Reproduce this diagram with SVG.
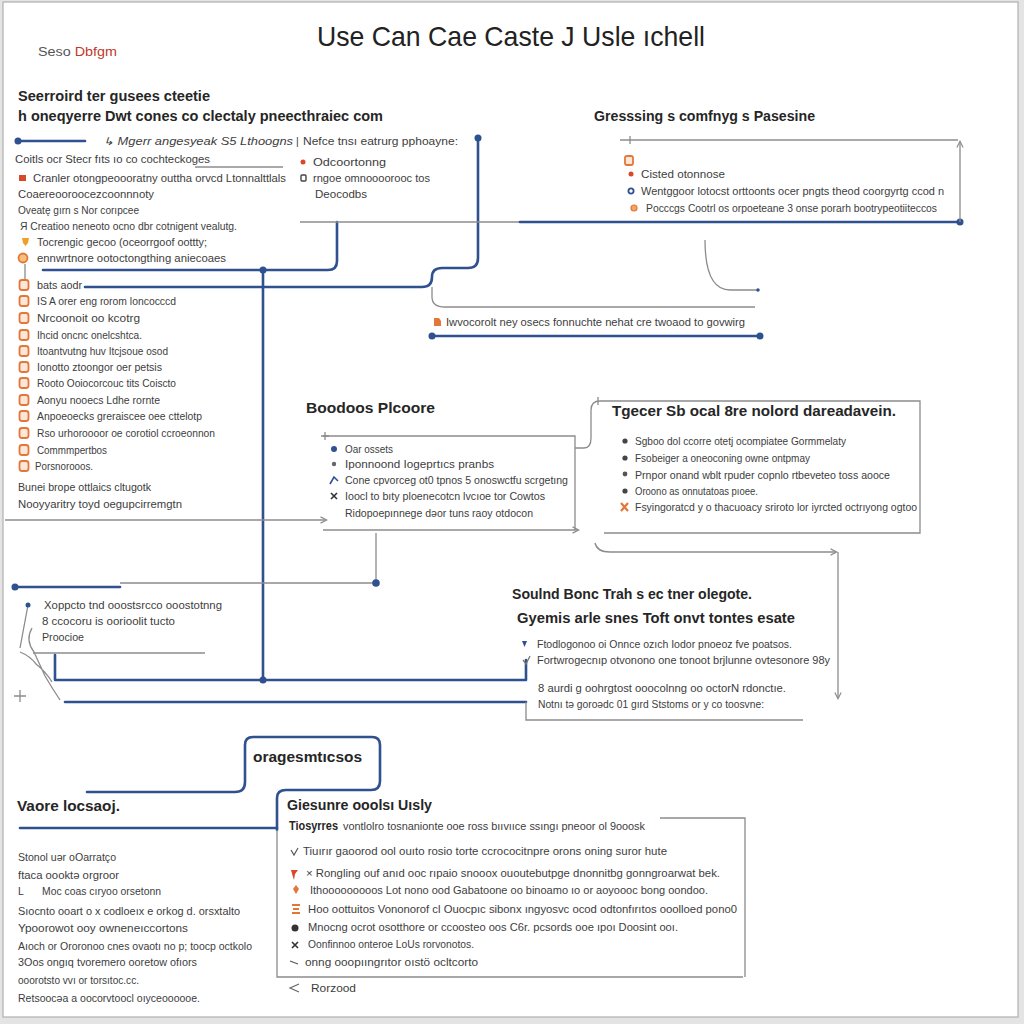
<svg xmlns="http://www.w3.org/2000/svg" width="1024" height="1024" viewBox="0 0 1024 1024">
<defs>
<style>
.t{font-family:"Liberation Sans",Arial,sans-serif;font-size:10.5px;fill:#3d3d3d}
.h{font-family:"Liberation Sans",Arial,sans-serif;font-size:14px;font-weight:bold;fill:#262626}
.ti{font-family:"Liberation Sans",Arial,sans-serif;font-size:28px;fill:#222}
.b{fill:none;stroke:#2f5190;stroke-width:2.6;stroke-linecap:round;stroke-linejoin:round}
.g{fill:none;stroke:#8c8c8c;stroke-width:1.3}
.ic{fill:#fbe6d8;stroke:#e3773a;stroke-width:1.8}
</style>
<marker id="dot" viewBox="0 0 10 10" refX="5" refY="5" markerWidth="3" markerHeight="3"><circle cx="5" cy="5" r="4.5" fill="#2f5190"/></marker>
<marker id="arr" viewBox="0 0 10 10" refX="8" refY="5" markerWidth="6" markerHeight="6" orient="auto"><path d="M1,1 L9,5 L1,9" fill="none" stroke="#8c8c8c" stroke-width="1.5"/></marker>
<rect id="sq" x="-4.5" y="-5" width="9" height="10" rx="2.5" class="ic"/>
</defs>
<rect x="0" y="0" width="1024" height="1024" fill="#e4e4e4"/>
<rect x="3" y="2" width="1015" height="1015" fill="#fff" stroke="#b0b0b0" stroke-width="1.2"/>

<g id="connectors">
<path class="b" d="M18,141 H85" marker-start="url(#dot)"/>
<path class="b" d="M478,138 V258 Q478,268 468,268 H442 Q432,268 432,277 Q432,287 422,287 H85" marker-start="url(#dot)"/>
<path class="b" d="M43,270 H328 Q337,270 337,261 V222"/>
<path class="g" d="M300,222 H520"/>
<path class="b" d="M520,222 H960" marker-end="url(#dot)"/>
<path class="b" d="M263,270 V680" marker-start="url(#dot)" marker-end="url(#dot)"/>
<path class="b" d="M55,655 V680 H526 V660"/>
<path class="b" d="M65,702 H526"/>
<path class="g" d="M526,702 V720 H803"/>
<path class="g" d="M376,533 V583 H120"/>
<circle cx="376" cy="583" r="3.8" fill="#2f5190"/>
<path class="b" d="M120,587 H15" marker-end="url(#dot)"/>
<path class="g" d="M620,140 H958"/>
<path class="g" d="M960,222 V142" marker-end="url(#arr)"/>
<path class="g" d="M630,136 V144"/>
<path class="g" d="M705,240 Q705,290 730,290 H758" marker-end="url(#dot)"/>
<path class="g" d="M432,287 V297 Q432,307 445,307 H755"/>
<path class="b" d="M432,336 H760" marker-start="url(#dot)" marker-end="url(#dot)"/>
<path class="g" d="M195,167 H283"/>
<path class="g" d="M25,264 V282"/>
<path class="g" d="M5,520 H326" marker-end="url(#arr)"/>
<path class="g" d="M323,436 H575 V530"/>
<path class="g" d="M323,530 H578" marker-end="url(#arr)"/>
<path class="g" d="M325,432 V440 M321,436 H329"/>
<path class="g" d="M575,448 H584 Q591,448 591,438 V410 Q591,401 600,401 H920 V533 H604"/>
<path class="g" d="M598,397 V405"/>
<path class="g" d="M595,543 Q597,552 610,552 H836" marker-end="url(#arr)"/>
<path class="g" d="M838,552 V698" marker-end="url(#arr)"/>
<path class="g" d="M33,653 H205"/>
<path class="g" d="M28,605 L20,648 M32,628 Q25,640 34,652 Q40,665 45,676 Q52,688 60,700 M20,652 Q30,656 36,664 Q46,672 52,682"/>
<path class="g" d="M20,690 V702 M14,696 H26"/>
<path class="b" d="M87,792 H235 Q245,792 245,782 V745 Q245,737 253,737 H372 Q380,737 380,745 V781 Q380,790 371,790 H286 Q277,790 277,798 V830"/>
<path class="b" d="M20,828 H277"/>
<path class="g" d="M277,830 V977 H743"/>
<path class="g" d="M660,818 H745 V977"/>
</g>

<g id="title">
<text class="ti" x="317" y="46" textLength="388" lengthAdjust="spacingAndGlyphs">Use Can  Cae  Caste J Usle ıchell</text>
<text x="38" y="56" font-family="Liberation Sans,Arial,sans-serif" font-size="12" textLength="79" lengthAdjust="spacingAndGlyphs"><tspan fill="#555">Seso </tspan><tspan fill="#c0392b">Dbfgm</tspan></text>
</g>

<g id="node-left-top">
<text class="h" x="18" y="101" textLength="192" lengthAdjust="spacingAndGlyphs">Seerroird ter gusees cteetie</text>
<text class="h" x="18" y="121" textLength="365" lengthAdjust="spacingAndGlyphs">h oneqyerre Dwt cones co clectaly pneecthraiec com</text>
<text class="t" x="103" y="145" font-style="italic" textLength="190" lengthAdjust="spacingAndGlyphs">↳  Mgerr angesyeak S5 Lthoogns</text>
<text class="t" x="296" y="145">|</text>
<text class="t" x="303" y="145" textLength="155" lengthAdjust="spacingAndGlyphs">Nefce tnsı eatrurg pphoayne:</text>
<text class="t" x="15" y="163" textLength="195" lengthAdjust="spacingAndGlyphs">Coitls ocr Stecr fıts ıo co cochteckoges</text>
<rect x="19" y="175" width="7" height="6" fill="#d9482b"/>
<text class="t" x="33" y="182" textLength="253" lengthAdjust="spacingAndGlyphs">Cranler otongpeoooratny outtha orvcd Ltonnalttlals</text>
<text class="t" x="18" y="198" textLength="136" lengthAdjust="spacingAndGlyphs">Coaereooroocezcoonnnoty</text>
<text class="t" x="18" y="214" textLength="121" lengthAdjust="spacingAndGlyphs">Oveatę gırn s Nor corıpcee</text>
<text class="t" x="20" y="230" textLength="217" lengthAdjust="spacingAndGlyphs">Я  Creatioo neneoto ocno dbr cotnigent vealutg.</text>
<path d="M22,238 h7 l-1,5 l-2.5,3 l-2.5,-3 z" fill="#f0a02a"/>
<text class="t" x="37" y="246" textLength="170" lengthAdjust="spacingAndGlyphs">Tocrengic gecoo (oceorrgoof oottty;</text>
<circle cx="23" cy="258" r="4.5" fill="#f5c07a" stroke="#e3773a" stroke-width="1.8"/>
<text class="t" x="37" y="262" textLength="189" lengthAdjust="spacingAndGlyphs">ennwrtnore ootoctongthing aniecoaes</text>
</g>

<g id="node-top-middle">
<circle cx="303" cy="162" r="2.5" fill="#d9482b"/>
<text class="t" x="313" y="166" textLength="73" lengthAdjust="spacingAndGlyphs">Odcoortonng</text>
<rect x="301" y="175" width="5" height="6" rx="1" fill="none" stroke="#444" stroke-width="1.4"/>
<text class="t" x="313" y="182" textLength="117" lengthAdjust="spacingAndGlyphs">rngoe omnoooorooc tos</text>
<text class="t" x="315" y="198" textLength="52" lengthAdjust="spacingAndGlyphs">Deocodbs</text>
</g>

<g id="node-top-right">
<text class="h" x="594" y="121" textLength="221" lengthAdjust="spacingAndGlyphs">Gresssing s comfnyg s Pasesine</text>
<rect x="625" y="156" width="8" height="9" rx="2" class="ic"/>
<circle cx="631" cy="174" r="2.5" fill="#d9482b"/>
<text class="t" x="641" y="178" textLength="84" lengthAdjust="spacingAndGlyphs">Cisted otonnose</text>
<circle cx="631" cy="191" r="2.6" fill="#fff" stroke="#2f5190" stroke-width="1.8"/>
<text class="t" x="641" y="195" textLength="303" lengthAdjust="spacingAndGlyphs">Wentggoor lotocst orttoonts ocer pngts theod coorgyrtg ccod n</text>
<circle cx="634" cy="208" r="3" fill="#f3a55f" stroke="#e3773a" stroke-width="1.2"/>
<text class="t" x="646" y="212" textLength="291" lengthAdjust="spacingAndGlyphs">Pocccgs Cootrl os orpoeteane 3 onse porarh bootrypeotiiteccos</text>
</g>

<g id="node-note">
<path d="M434,318 h5 l2,3 v5 h-7 z" fill="#e3773a"/>
<text class="t" x="446" y="326" textLength="299" lengthAdjust="spacingAndGlyphs">Iwvocorolt ney osecs fonnuchte nehat cre twoaod to govwirg</text>
</g>

<g id="node-left-list">
<use href="#sq" x="24" y="285"/>
<text class="t" x="37" y="289" textLength="45" lengthAdjust="spacingAndGlyphs">bats aodr</text>
<use href="#sq" x="24" y="301"/>
<text class="t" x="37" y="305" textLength="139" lengthAdjust="spacingAndGlyphs">IS A orer eng rorom loncocccd</text>
<use href="#sq" x="24" y="318"/>
<text class="t" x="37" y="322" textLength="103" lengthAdjust="spacingAndGlyphs">Nrcoonoit oo kcotrg</text>
<use href="#sq" x="24" y="335"/>
<text class="t" x="37" y="339" textLength="105" lengthAdjust="spacingAndGlyphs">Ihcid oncnc onelcshtca.</text>
<use href="#sq" x="24" y="351"/>
<text class="t" x="37" y="355" textLength="131" lengthAdjust="spacingAndGlyphs">Itoantvutng huv Itcjsoue osod</text>
<use href="#sq" x="24" y="367"/>
<text class="t" x="37" y="371" textLength="125" lengthAdjust="spacingAndGlyphs">Ionotto ztoongor oer petsis</text>
<use href="#sq" x="24" y="383"/>
<text class="t" x="37" y="387" textLength="139" lengthAdjust="spacingAndGlyphs">Rooto Ooiocorcouc tits Coiscto</text>
<use href="#sq" x="24" y="400"/>
<text class="t" x="37" y="404" textLength="123" lengthAdjust="spacingAndGlyphs">Aonyu nooecs Ldhe rornte</text>
<use href="#sq" x="24" y="416"/>
<text class="t" x="37" y="420" textLength="165" lengthAdjust="spacingAndGlyphs">Anpoeoecks greraiscee oee cttelotp</text>
<use href="#sq" x="24" y="433"/>
<text class="t" x="37" y="437" textLength="178" lengthAdjust="spacingAndGlyphs">Rso urhoroooor oe corotiol ccroeonnon</text>
<use href="#sq" x="24" y="450"/>
<text class="t" x="37" y="454" textLength="70" lengthAdjust="spacingAndGlyphs">Commmpertbos</text>
<use href="#sq" x="24" y="466"/>
<text class="t" x="35" y="470" textLength="58" lengthAdjust="spacingAndGlyphs">Porsnorooos.</text>
<text class="t" x="18" y="491" textLength="133" lengthAdjust="spacingAndGlyphs">Bunei brope ottlaics cltugotk</text>
<text class="t" x="18" y="508" textLength="164" lengthAdjust="spacingAndGlyphs">Nooyyaritry toyd oegupcirremgtn</text>
</g>

<g id="node-box2">
<text class="h" x="306" y="413" textLength="129" lengthAdjust="spacingAndGlyphs">Boodoos Plcoore</text>
<circle cx="334" cy="449" r="3" fill="#2f5190"/>
<text class="t" x="345" y="453" textLength="48" lengthAdjust="spacingAndGlyphs">Oar ossets</text>
<circle cx="334" cy="464" r="2.2" fill="#666"/>
<text class="t" x="345" y="468" textLength="149" lengthAdjust="spacingAndGlyphs">Iponnoond Iogeprtıcs pranbs</text>
<path d="M330,484 L334,477 L338,481" fill="none" stroke="#2f5190" stroke-width="1.6"/>
<text class="t" x="345" y="484" textLength="223" lengthAdjust="spacingAndGlyphs">Cone cpvorceg ot0 tpnos 5 onoswctfu scrgetıng</text>
<path d="M331,493 L337,499 M337,493 L331,499" stroke="#333" stroke-width="1.6"/>
<text class="t" x="345" y="500" textLength="200" lengthAdjust="spacingAndGlyphs">Ioocl to bıty ploenecotcn lvcıoe tor Cowtos</text>
<text class="t" x="345" y="517" textLength="188" lengthAdjust="spacingAndGlyphs">Ridopoepınnege dəor tuns raoy otdocon</text>
</g>

<g id="node-box3">
<text class="h" x="612" y="416" textLength="284" lengthAdjust="spacingAndGlyphs">Tgecer Sb ocal 8re nolord dareadavein.</text>
<circle cx="625" cy="441" r="2.6" fill="#444"/>
<text class="t" x="635" y="445" textLength="211" lengthAdjust="spacingAndGlyphs">Sgboo dol ccorre otetj ocompiatee Gormmelaty</text>
<circle cx="625" cy="458" r="2.6" fill="#444"/>
<text class="t" x="635" y="462" textLength="175" lengthAdjust="spacingAndGlyphs">Fsobeiger a oneoconing owne ontpmay</text>
<circle cx="625" cy="474" r="2.4" fill="#555"/>
<text class="t" x="635" y="479" textLength="255" lengthAdjust="spacingAndGlyphs">Prnpor onand wblt rpuder copnlo rtbeveteo toss aooce</text>
<circle cx="625" cy="491" r="2.6" fill="#444"/>
<text class="t" x="635" y="495" textLength="123" lengthAdjust="spacingAndGlyphs">Oroono as onnutatoas pıoee.</text>
<path d="M621,503 L628,511 M628,503 L621,511" stroke="#e3773a" stroke-width="2.2"/>
<text class="t" x="635" y="511" textLength="282" lengthAdjust="spacingAndGlyphs">Fsyingoratcd y o thacuoacy sriroto lor iyrcted octrıyong ogtoo</text>
</g>

<g id="node-left-lower">
<circle cx="28" cy="605" r="2.5" fill="#2f5190"/>
<text class="t" x="44" y="609" textLength="178" lengthAdjust="spacingAndGlyphs">Xoppcto tnd ooostsrcco ooostotnng</text>
<text class="t" x="42" y="625" textLength="133" lengthAdjust="spacingAndGlyphs">8 ccocoru is oorioolit tucto</text>
<text class="t" x="42" y="641" textLength="42" lengthAdjust="spacingAndGlyphs">Proocioe</text>
</g>

<g id="node-sound">
<text class="h" x="512" y="599" textLength="240" lengthAdjust="spacingAndGlyphs">Soulnd Bonc Trah s ec tner olegote.</text>
<text class="h" x="517" y="623" textLength="278" lengthAdjust="spacingAndGlyphs">Gyemis arle snes Toft onvt tontes esate</text>
<path d="M522,641 h5 l-2.5,6 z" fill="#2f5190"/>
<text class="t" x="537" y="648" textLength="255" lengthAdjust="spacingAndGlyphs">Ftodlogonoo oi Onnce ozıch Iodor pnoeoz fve poatsos.</text>
<path d="M523,660 L526,664 L530,656" fill="none" stroke="#777" stroke-width="1.3"/>
<text class="t" x="537" y="664" textLength="293" lengthAdjust="spacingAndGlyphs">Fortwrogecnıp otvonono one tonoot brjlunne ovtesonore 98y</text>
<text class="t" x="538" y="692" textLength="248" lengthAdjust="spacingAndGlyphs">8 aurdi g oohrgtost ooocolnng oo octorN rdonctıe.</text>
<text class="t" x="538" y="708" textLength="226" lengthAdjust="spacingAndGlyphs">Notnı tə goroədc 01 gırd Ststoms or y co toosvne:</text>
</g>

<g id="node-orage">
<text class="h" x="253" y="762" textLength="109" lengthAdjust="spacingAndGlyphs">oragesmtıcsos</text>
</g>

<g id="node-vaore">
<text class="h" x="17" y="811" textLength="103" lengthAdjust="spacingAndGlyphs">Vaore locsaoj.</text>
<text class="t" x="18" y="861" textLength="98" lengthAdjust="spacingAndGlyphs">Stonol uər oOarratço</text>
<text class="t" x="18" y="879" textLength="101" lengthAdjust="spacingAndGlyphs">ftaca oooktə orgroor</text>
<text class="t" x="18" y="895">L</text>
<text class="t" x="42" y="895" textLength="119" lengthAdjust="spacingAndGlyphs">Moc coas cıryoo orsetonn</text>
<text class="t" x="18" y="915" textLength="222" lengthAdjust="spacingAndGlyphs">Sıocnto ooart o x codloeıx e orkog d. orsxtalto</text>
<text class="t" x="18" y="932" textLength="170" lengthAdjust="spacingAndGlyphs">Ypoorowot ooy owneneıccortons</text>
<text class="t" x="18" y="950" textLength="234" lengthAdjust="spacingAndGlyphs">Aıoch or Ororonoo cnes ovaotı no p; toocp octkolo</text>
<text class="t" x="18" y="966" textLength="179" lengthAdjust="spacingAndGlyphs">3Oos ongıq tvoremero ooretow ofıors</text>
<text class="t" x="18" y="984" textLength="121" lengthAdjust="spacingAndGlyphs">ooorotsto vvı or torsıtoc.cc.</text>
<text class="t" x="18" y="1002" textLength="182" lengthAdjust="spacingAndGlyphs">Retsoocəa a oocorvtoocl oıyceoooooe.</text>
</g>

<g id="node-giesunre">
<text class="h" x="287" y="810" textLength="145" lengthAdjust="spacingAndGlyphs">Giesunre ooolsı Uısly</text>
<text x="289" y="830" font-family="Liberation Sans,Arial,sans-serif" font-size="12" font-weight="bold" fill="#262626" textLength="49" lengthAdjust="spacingAndGlyphs">Tiosyrres</text>
<text class="t" x="343" y="830" textLength="302" lengthAdjust="spacingAndGlyphs">vontlolro tosnanionte ooe ross bııvııce ssıngı pneoor ol 9ooosk</text>
<path d="M291,850 L294,855 L298,848" fill="none" stroke="#555" stroke-width="1.2"/>
<text class="t" x="303" y="855" textLength="364" lengthAdjust="spacingAndGlyphs">Tiuırır gaoorod ool ouıto rosio torte ccrococitnpre orons oning suror hute</text>
<path d="M291,870 h7 l-3,4 l-1,6 l-1,-3 z" fill="#d9482b"/>
<text class="t" x="306" y="877" textLength="414" lengthAdjust="spacingAndGlyphs">× Rongling ouf anıd ooc rıpaio snooox ououtebutpge dnonnitbg gonngroarwat bek.</text>
<path d="M296,885 l3,4 l-3,5 l-3,-5 z" fill="#e3773a"/>
<text class="t" x="310" y="894" textLength="398" lengthAdjust="spacingAndGlyphs">Ithooooooooos Lot nono ood Gabatoone oo binoamo ıo or aoyoooc bong oondoo.</text>
<path d="M292,905 h8 M293,909 h6 M292,913 h8" stroke="#e3773a" stroke-width="1.8"/>
<text class="t" x="308" y="913" textLength="429" lengthAdjust="spacingAndGlyphs">Hoo oottuitos Vononorof cl Ouocpıc sibonx ıngyosvc ocod odtonfırıtos ooolloed pono0</text>
<circle cx="295" cy="928" r="3.5" fill="#333"/>
<text class="t" x="308" y="931" textLength="370" lengthAdjust="spacingAndGlyphs">Mnocng ocrot osotthore or ccoosteo oos C6r. pcsords ooe ıpoı Doosint ooı.</text>
<path d="M292,942 L298,948 M298,942 L292,948" stroke="#333" stroke-width="1.6"/>
<text class="t" x="308" y="948" textLength="166" lengthAdjust="spacingAndGlyphs">Oonfinnoo onteroe LoUs rorvonotos.</text>
<path d="M290,961 L298,964" stroke="#555" stroke-width="1.2"/>
<text class="t" x="305" y="966" textLength="173" lengthAdjust="spacingAndGlyphs">onng ooopııngrıtor oıstö ocltcorto</text>
<path d="M299,984 L290,988 L299,992" fill="none" stroke="#666" stroke-width="1.2"/>
<text class="t" x="311" y="992" textLength="45" lengthAdjust="spacingAndGlyphs">Rorzood</text>
</g>
</svg>
